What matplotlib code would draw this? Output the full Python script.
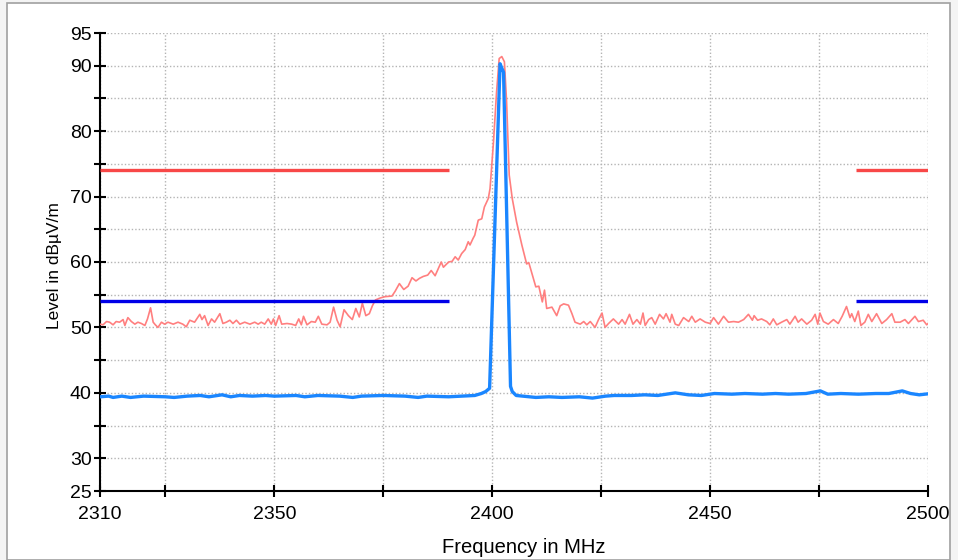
import matplotlib
matplotlib.use("Agg")
import matplotlib.pyplot as plt
from matplotlib.patches import Rectangle
from matplotlib.ticker import FixedLocator, FixedFormatter

# ---------------- data ----------------
peak_freq = [2310.0, 2310.7, 2311.5, 2312.2, 2313.0, 2313.7, 2314.5, 2315.3, 2315.7, 2316.4,
             2317.2, 2318.0, 2318.7, 2319.5, 2320.3, 2320.9, 2321.6, 2322.2, 2322.7, 2323.3,
             2324.1, 2324.8, 2325.6, 2326.8, 2327.9, 2329.0, 2329.8, 2330.6, 2331.7, 2332.9,
             2333.4, 2334.0, 2334.8, 2335.6, 2336.3, 2337.5, 2338.2, 2339.0, 2339.8, 2340.5,
             2341.3, 2342.1, 2343.2, 2344.4, 2345.5, 2346.3, 2347.0, 2347.8, 2348.6, 2349.3,
             2349.8, 2350.3, 2351.1, 2351.7, 2352.9, 2354.0, 2354.9, 2355.6, 2356.2, 2356.7,
             2357.5, 2358.5, 2359.4, 2360.1, 2360.9, 2362.1, 2362.8, 2363.6, 2364.4, 2365.1,
             2366.0, 2367.0, 2367.9, 2368.7, 2369.5, 2370.2, 2371.0, 2371.8, 2372.5, 2373.2,
             2374.3, 2375.4, 2377.0, 2377.7, 2378.7, 2379.7, 2380.7, 2381.6, 2382.5, 2383.3,
             2384.2, 2385.2, 2386.0, 2386.9, 2388.3, 2388.8, 2390.0, 2390.8, 2391.5, 2392.2,
             2393.0, 2393.8, 2394.5, 2394.9, 2395.6, 2396.0, 2396.8, 2397.6, 2398.2, 2399.1,
             2399.5, 2400.3, 2401.0, 2401.6, 2402.2, 2402.8, 2403.3, 2403.9, 2404.6, 2405.6,
             2406.8, 2407.9, 2408.4, 2410.0, 2410.7, 2411.5, 2412.0, 2412.5, 2413.7, 2414.8,
             2415.6, 2416.4, 2417.5, 2418.3, 2419.0, 2420.2, 2421.0, 2421.7, 2422.5, 2423.6,
             2424.4, 2425.2, 2425.9, 2426.7, 2427.8, 2429.0, 2429.8, 2430.5, 2431.5, 2432.3,
             2433.2, 2434.0, 2434.6, 2435.1, 2435.9, 2436.6, 2437.4, 2438.4, 2439.3, 2439.9,
             2440.8, 2441.2, 2442.0, 2442.8, 2443.9, 2445.1, 2445.8, 2446.6, 2447.7, 2448.9,
             2450.0, 2450.8, 2451.9, 2453.1, 2454.2, 2455.4, 2456.5, 2457.7, 2458.8, 2459.7,
             2460.1, 2460.9, 2461.8, 2463.0, 2463.7, 2464.5, 2465.3, 2466.4, 2467.6, 2468.3,
             2469.5, 2470.2, 2471.0, 2472.2, 2473.3, 2474.1, 2474.7, 2475.2, 2476.0, 2477.1,
             2478.3, 2479.4, 2480.3, 2481.3, 2482.1, 2482.5, 2483.2, 2484.0, 2484.6, 2485.5,
             2486.3, 2487.1, 2488.2, 2489.4, 2490.5, 2491.7, 2492.4, 2493.6, 2494.7, 2495.5,
             2497.0, 2497.8, 2498.9, 2499.7, 2500.0]
peak_level = [50.5, 50.4, 50.9, 50.8, 50.4, 50.9, 50.8, 51.2, 50.3, 51.5,
              50.9, 50.5, 50.8, 50.6, 50.3, 51.3, 53.0, 50.8, 50.4, 50.0,
              50.8, 50.5, 50.8, 50.5, 50.8, 50.5, 50.1, 51.1, 50.8, 52.0,
              51.2, 51.8, 50.3, 51.3, 50.8, 52.1, 50.6, 50.8, 51.1, 50.6,
              51.1, 50.5, 50.8, 50.5, 50.8, 50.5, 50.8, 50.5, 51.3, 50.5,
              51.3, 50.3, 51.8, 50.5, 50.6, 50.5, 50.3, 51.3, 50.4, 51.7,
              50.4, 50.9, 50.8, 51.7, 50.5, 50.4, 50.8, 53.1, 51.1, 50.1,
              52.7, 51.8, 51.2, 52.9, 51.6, 53.7, 51.8, 52.1, 53.3, 54.2,
              54.5, 54.7, 54.8, 55.5, 56.7, 55.8, 56.3, 57.6, 57.1, 57.5,
              57.8, 58.0, 58.7, 57.9, 60.0, 59.2, 60.0, 60.1, 60.8, 60.3,
              61.3, 61.9, 63.1, 62.6, 63.6, 64.1, 66.4, 66.6, 68.4, 69.7,
              71.2, 78.4, 86.0, 91.1, 91.4, 90.6, 84.5, 73.3, 69.7, 66.1,
              62.6, 59.7, 59.9, 56.2, 56.3, 53.9, 55.7, 52.9, 53.1, 51.8,
              53.3, 53.6, 53.4, 52.1, 50.8, 50.5, 50.9, 50.4, 50.9, 50.0,
              51.2, 52.2, 50.0, 50.6, 51.3, 50.5, 51.2, 50.5, 52.0, 50.5,
              51.2, 50.5, 52.2, 50.3, 51.2, 51.5, 50.5, 52.0, 51.3, 52.1,
              50.8, 52.0, 50.5, 50.3, 51.5, 50.9, 51.7, 50.8, 51.3, 50.8,
              50.6, 51.5, 50.5, 51.7, 50.8, 50.9, 50.8, 51.2, 52.0, 51.1,
              51.8, 51.1, 51.3, 50.9, 50.4, 51.3, 50.4, 50.8, 51.2, 50.5,
              51.7, 50.8, 51.3, 50.5, 51.1, 52.0, 50.5, 52.2, 50.9, 50.5,
              51.2, 50.6, 51.7, 53.2, 51.5, 52.1, 50.9, 52.5, 50.3, 50.8,
              52.0, 50.9, 52.1, 50.6, 51.2, 52.1, 50.8, 50.8, 51.2, 50.6,
              51.7, 50.9, 51.1, 50.4, 50.6]

avg_freq = [2310, 2312, 2313, 2315, 2317, 2320, 2325, 2327, 2330, 2333,
            2335, 2338, 2340, 2342, 2345, 2348, 2350, 2355, 2357, 2360,
            2365, 2368, 2370, 2375, 2380, 2383, 2385, 2390, 2393, 2396,
            2397.5, 2398.5, 2399.4, 2401.8, 2402.1, 2402.6, 2404.2, 2404.6, 2405.5, 2407,
            2410, 2413, 2416, 2420, 2423, 2426, 2428, 2432, 2435, 2438,
            2442, 2445, 2448, 2451, 2455, 2458, 2462, 2465, 2468, 2472,
            2475.3, 2477, 2480, 2484, 2488, 2491, 2494.1, 2496, 2498, 2500]
avg_level = [39.4, 39.5, 39.3, 39.5, 39.3, 39.5, 39.4, 39.3, 39.5, 39.6,
             39.4, 39.7, 39.4, 39.6, 39.5, 39.6, 39.5, 39.6, 39.4, 39.6,
             39.5, 39.3, 39.5, 39.6, 39.5, 39.3, 39.5, 39.4, 39.5, 39.6,
             39.9, 40.2, 40.7, 90.3, 89.8, 89.0, 41.0, 40.2, 39.6, 39.5,
             39.3, 39.4, 39.3, 39.4, 39.2, 39.5, 39.6, 39.6, 39.7, 39.6,
             40.0, 39.7, 39.6, 39.9, 39.8, 39.9, 39.8, 39.9, 39.8, 39.9,
             40.3, 39.8, 39.9, 39.8, 39.9, 39.9, 40.3, 39.9, 39.7, 39.85]

limit_bands = [(2310, 2390), (2483.5, 2500)]
peak_limit = 74
avg_limit = 54

x_ticks = [2310, 2325, 2350, 2375, 2400, 2425, 2450, 2475, 2500]
x_labels = ["2310", "", "2350", "", "2400", "", "2450", "", "2500"]
y_ticks = [25, 30, 35, 40, 45, 50, 55, 60, 65, 70, 75, 80, 85, 90, 95]
y_labels = ["25", "30", "", "40", "", "50", "", "60", "", "70", "", "80", "", "90", "95"]

# ---------------- plot ----------------
plt.rcParams['font.family'] = ['Liberation Sans', 'DejaVu Sans']
plt.rcParams['lines.scale_dashes'] = False

fig = plt.figure(figsize=(9.58, 5.6), dpi=100)
fig.patch.set_facecolor('#f4f4f4')
W, H = 958, 560
frame = Rectangle((7 / W, 0), (950 - 7) / W, (557 - 0) / H,
                  transform=fig.transFigure, facecolor='white',
                  edgecolor='#a0a0a0', linewidth=1.2, zorder=-10)
fig.add_artist(frame)

ax = fig.add_axes([100 / W, 1 - 491 / H, (928 - 100) / W, (491 - 33) / H])
ax.set_zorder(1)
ax.set_facecolor('none')

ax.plot(peak_freq, peak_level, color='#ff7f7f', linewidth=1.2, zorder=3)
for (a, b) in limit_bands:
    ax.plot([a, b], [peak_limit, peak_limit], color='#f84848', linewidth=2.4,
            solid_capstyle='butt', zorder=4)
    ax.plot([a, b], [avg_limit, avg_limit], color='#0000e8', linewidth=2.4,
            solid_capstyle='butt', zorder=4)
ax.plot(avg_freq, avg_level, color='#1a86ff', linewidth=2.4, zorder=5)

ax.set_xlim(2310, 2500)
ax.set_ylim(25, 95)

ax.xaxis.set_major_locator(FixedLocator(x_ticks))
ax.xaxis.set_major_formatter(FixedFormatter(x_labels))
ax.yaxis.set_major_locator(FixedLocator(y_ticks))
ax.yaxis.set_major_formatter(FixedFormatter(y_labels))

ax.grid(True, color='#b4b4b4', linewidth=1.0, linestyle=(0, (1.0, 1.5)))
ax.set_axisbelow(True)

for s in ['top', 'right']:
    ax.spines[s].set_visible(False)
for s in ['left', 'bottom']:
    ax.spines[s].set_linewidth(1.5)
    ax.spines[s].set_color('black')

ax.tick_params(axis='both', direction='inout', length=8, width=1.5, colors='black',
               labelsize=14)
ax.tick_params(axis='y', pad=2)
ax.tick_params(axis='x', pad=7)

ax.set_xlabel('Frequency in MHz', fontsize=14.5)
ax.set_ylabel('Level in dBµV/m', fontsize=12.5)
ax.xaxis.set_label_coords(0.512, -0.102)
ax.xaxis.label.set_va('top')
ax.yaxis.set_label_coords(-0.046, 0.493)

fig.savefig('out.png', dpi=100, facecolor=fig.get_facecolor())
